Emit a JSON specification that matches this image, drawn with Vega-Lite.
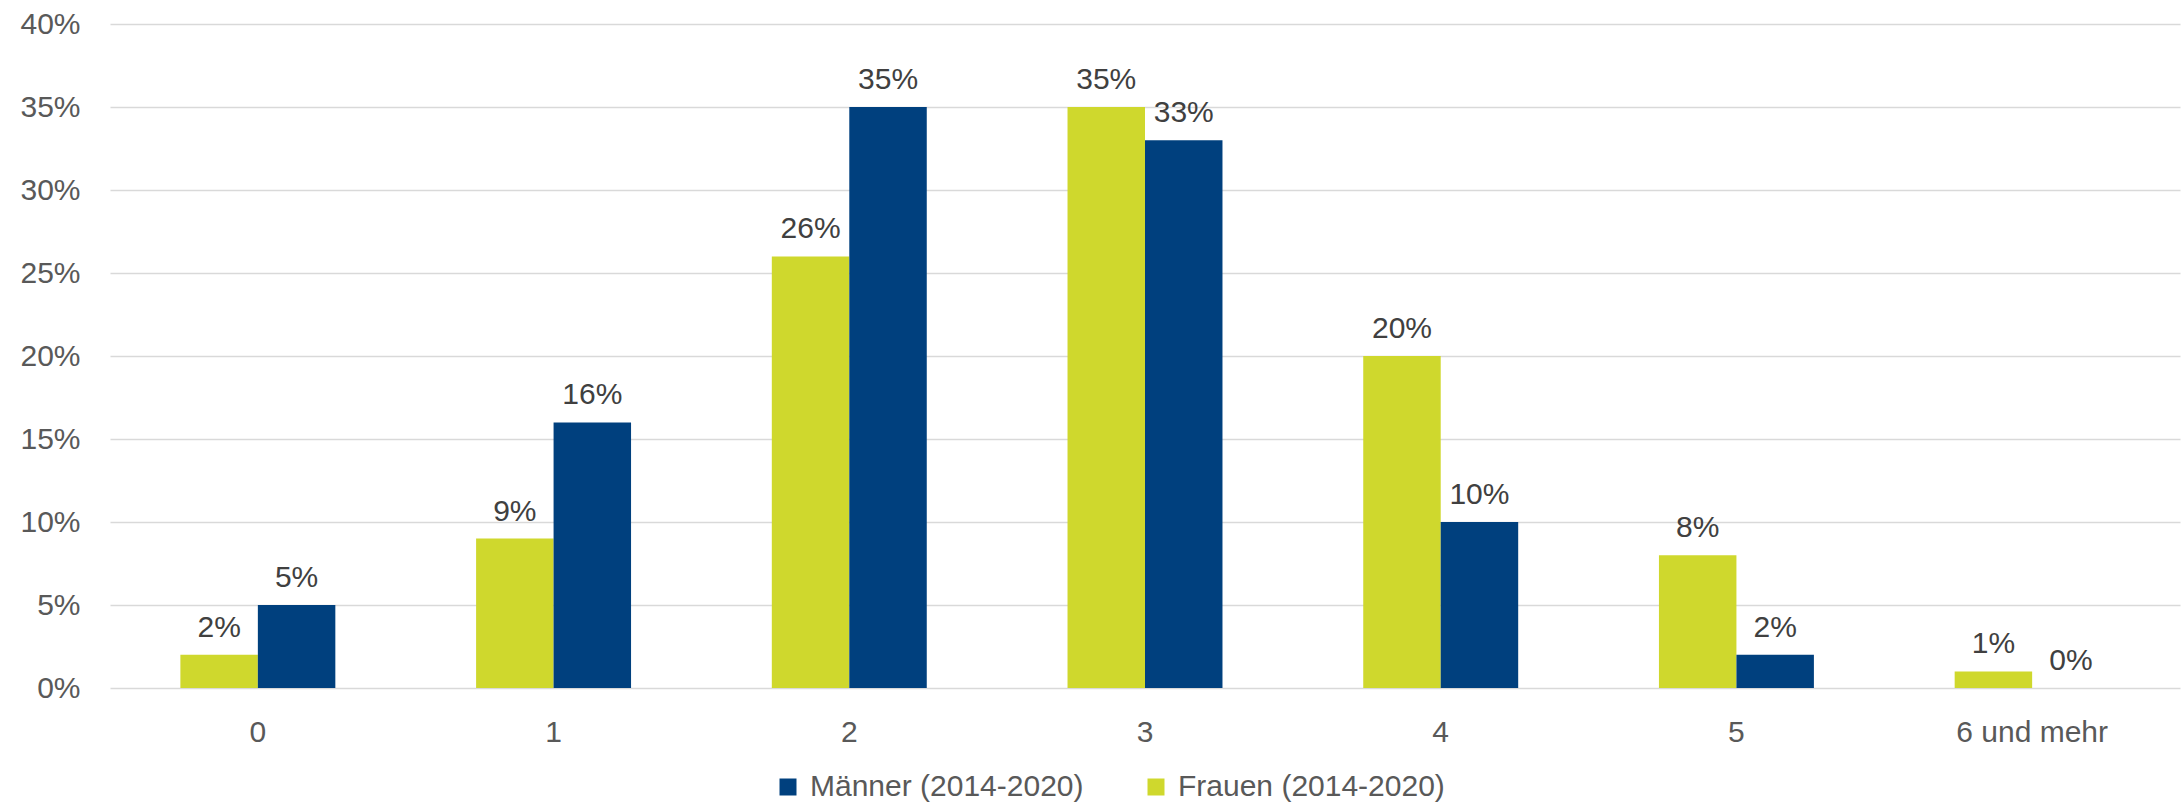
{
  "$schema": "https://vega.github.io/schema/vega-lite/v6.json",
  "autosize": {"type": "none"},
  "width": 2070,
  "height": 664,
  "padding": {"left": 110, "top": 24, "right": 1, "bottom": 116},
  "background": "white",
  "config": {"view": {"stroke": null}},
  "data": {
    "values": [
      {"kat": "0", "gruppe": "Frauen (2014-2020)", "wert": 0.02},
      {"kat": "0", "gruppe": "Männer (2014-2020)", "wert": 0.05},
      {"kat": "1", "gruppe": "Frauen (2014-2020)", "wert": 0.09},
      {"kat": "1", "gruppe": "Männer (2014-2020)", "wert": 0.16},
      {"kat": "2", "gruppe": "Frauen (2014-2020)", "wert": 0.26},
      {"kat": "2", "gruppe": "Männer (2014-2020)", "wert": 0.35},
      {"kat": "3", "gruppe": "Frauen (2014-2020)", "wert": 0.35},
      {"kat": "3", "gruppe": "Männer (2014-2020)", "wert": 0.33},
      {"kat": "4", "gruppe": "Frauen (2014-2020)", "wert": 0.20},
      {"kat": "4", "gruppe": "Männer (2014-2020)", "wert": 0.10},
      {"kat": "5", "gruppe": "Frauen (2014-2020)", "wert": 0.08},
      {"kat": "5", "gruppe": "Männer (2014-2020)", "wert": 0.02},
      {"kat": "6 und mehr", "gruppe": "Frauen (2014-2020)", "wert": 0.01},
      {"kat": "6 und mehr", "gruppe": "Männer (2014-2020)", "wert": 0.0}
    ]
  },
  "encoding": {
    "x": {
      "field": "kat", "type": "nominal", "sort": null,
      "scale": {"paddingInner": 0.476, "paddingOuter": 0.238},
      "axis": {
        "title": null, "labelAngle": 0, "domain": false, "ticks": false,
        "labelFont": "Liberation Sans", "labelFontSize": 30, "labelColor": "#595959",
        "labelPadding": 29
      }
    },
    "xOffset": {
      "field": "gruppe", "type": "nominal",
      "sort": ["Frauen (2014-2020)", "Männer (2014-2020)"],
      "scale": {"paddingInner": 0, "paddingOuter": 0}
    },
    "y": {
      "field": "wert", "type": "quantitative",
      "scale": {"domain": [0, 0.4], "nice": false},
      "axis": {
        "title": null, "format": ".0%", "values": [0, 0.05, 0.1, 0.15, 0.2, 0.25, 0.3, 0.35, 0.4],
        "domain": false, "ticks": false, "grid": true, "gridColor": "#D9D9D9", "gridWidth": 1.5,
        "labelFont": "Liberation Sans", "labelFontSize": 30, "labelColor": "#595959",
        "labelPadding": 30
      }
    }
  },
  "layer": [
    {
      "mark": {"type": "bar"},
      "encoding": {
        "color": {
          "field": "gruppe", "type": "nominal",
          "scale": {
            "domain": ["Männer (2014-2020)", "Frauen (2014-2020)"],
            "range": ["#00407E", "#CFD82D"]
          },
          "legend": {
            "title": null, "orient": "none", "direction": "horizontal",
            "legendX": 663, "legendY": 748,
            "symbolType": "square", "symbolSize": 289, "symbolStrokeWidth": 0,
            "labelFont": "Liberation Sans", "labelFontSize": 30, "labelColor": "#595959",
            "labelLimit": 0, "labelOffset": 7, "columnPadding": 57
          }
        }
      }
    },
    {
      "mark": {"type": "text", "baseline": "alphabetic", "dy": -18, "font": "Liberation Sans", "fontSize": 30, "color": "#404040"},
      "encoding": {
        "text": {"field": "wert", "type": "quantitative", "format": ".0%"}
      }
    }
  ]
}
